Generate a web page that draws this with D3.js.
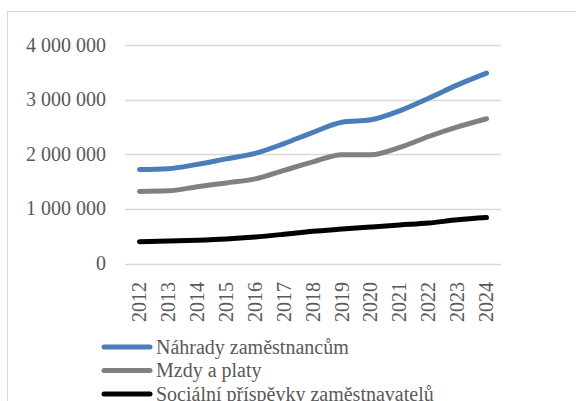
<!DOCTYPE html>
<html><head><meta charset="utf-8">
<script src="https://cdn.jsdelivr.net/npm/d3@7/dist/d3.min.js"></script>
<style>body{margin:0;background:#fff}svg{display:block}</style>
</head><body>
<svg id="c" width="576" height="401"></svg>
<script>
const years = ["2012","2013","2014","2015","2016","2017","2018","2019","2020","2021","2022","2023","2024"];
const nahrady = [1720000,1735000,1815000,1915000,2015000,2195000,2400000,2585000,2630000,2795000,3025000,3270000,3485000];
const mzdy = [1320000,1330000,1405000,1475000,1550000,1705000,1860000,1990000,1990000,2125000,2325000,2500000,2650000];
const socialni = [400000,410000,425000,448000,485000,535000,590000,630000,668000,705000,740000,800000,840000];
const yTicks = [0,1000000,2000000,3000000,4000000];
const seriesNames = ["Náhrady zaměstnancům","Mzdy a platy","Sociální příspěvky zaměstnavatelů"];
const seriesColors = ["#4a7ebb","#808080","#000000"];
const seriesData = [nahrady, mzdy, socialni];

const svg = d3.select("#c");
const font = "'Liberation Serif', 'Times New Roman', serif";
const textColor = "#595959";

// chart border
svg.append("rect").attr("x",7.5).attr("y",11.5).attr("width",600).attr("height",420)
  .attr("fill","none").attr("stroke","#d9d9d9").attr("stroke-width",1);

const x = d3.scaleBand().domain(years).range([125,501]);
const y = d3.scaleLinear().domain([0,4000000]).range([263.5,45]);
const fmt = d3.formatLocale({decimal:",",thousands:" ",grouping:[3],currency:["",""]}).format(",d");

// gridlines
svg.append("g").selectAll("line").data(yTicks).join("line")
  .attr("x1",125).attr("x2",501)
  .attr("y1",d=>Math.round(y(d))+0.5).attr("y2",d=>Math.round(y(d))+0.5)
  .attr("stroke","#d9d9d9").attr("stroke-width",1.3);

// y labels
svg.append("g").selectAll("text").data(yTicks).join("text")
  .attr("x",106).attr("y",d=>y(d)).attr("dy","0.33em")
  .attr("text-anchor","end").attr("font-family",font).attr("font-size",20)
  .attr("fill",textColor).text(d=>fmt(d));

// x labels rotated
svg.append("g").selectAll("text").data(years).join("text")
  .attr("transform",d=>`translate(${x(d)+x.bandwidth()/2},282) rotate(-90)`)
  .attr("dy","0.33em").attr("text-anchor","end")
  .attr("font-family",font).attr("font-size",20).attr("fill",textColor).text(d=>d);

// lines
const line = d3.line().x((d,i)=>x(years[i])+x.bandwidth()/2).y(d=>y(d)).curve(d3.curveMonotoneX);
svg.append("g").selectAll("path").data(seriesData).join("path")
  .attr("d",d=>line(d)).attr("fill","none")
  .attr("stroke",(d,i)=>seriesColors[i]).attr("stroke-width",5)
  .attr("stroke-linecap","round").attr("stroke-linejoin","round");

// legend
const lg = svg.append("g").selectAll("g").data(seriesNames).join("g")
  .attr("transform",(d,i)=>`translate(0,${347+i*23.5})`);
lg.append("line").attr("x1",104).attr("x2",150).attr("y1",0).attr("y2",0)
  .attr("stroke",(d,i)=>seriesColors[i]).attr("stroke-width",5).attr("stroke-linecap","round");
lg.append("text").attr("x",156).attr("y",0).attr("dy","0.33em")
  .attr("font-family",font).attr("font-size",20).attr("fill",textColor).text(d=>d);
</script>
</body></html>
